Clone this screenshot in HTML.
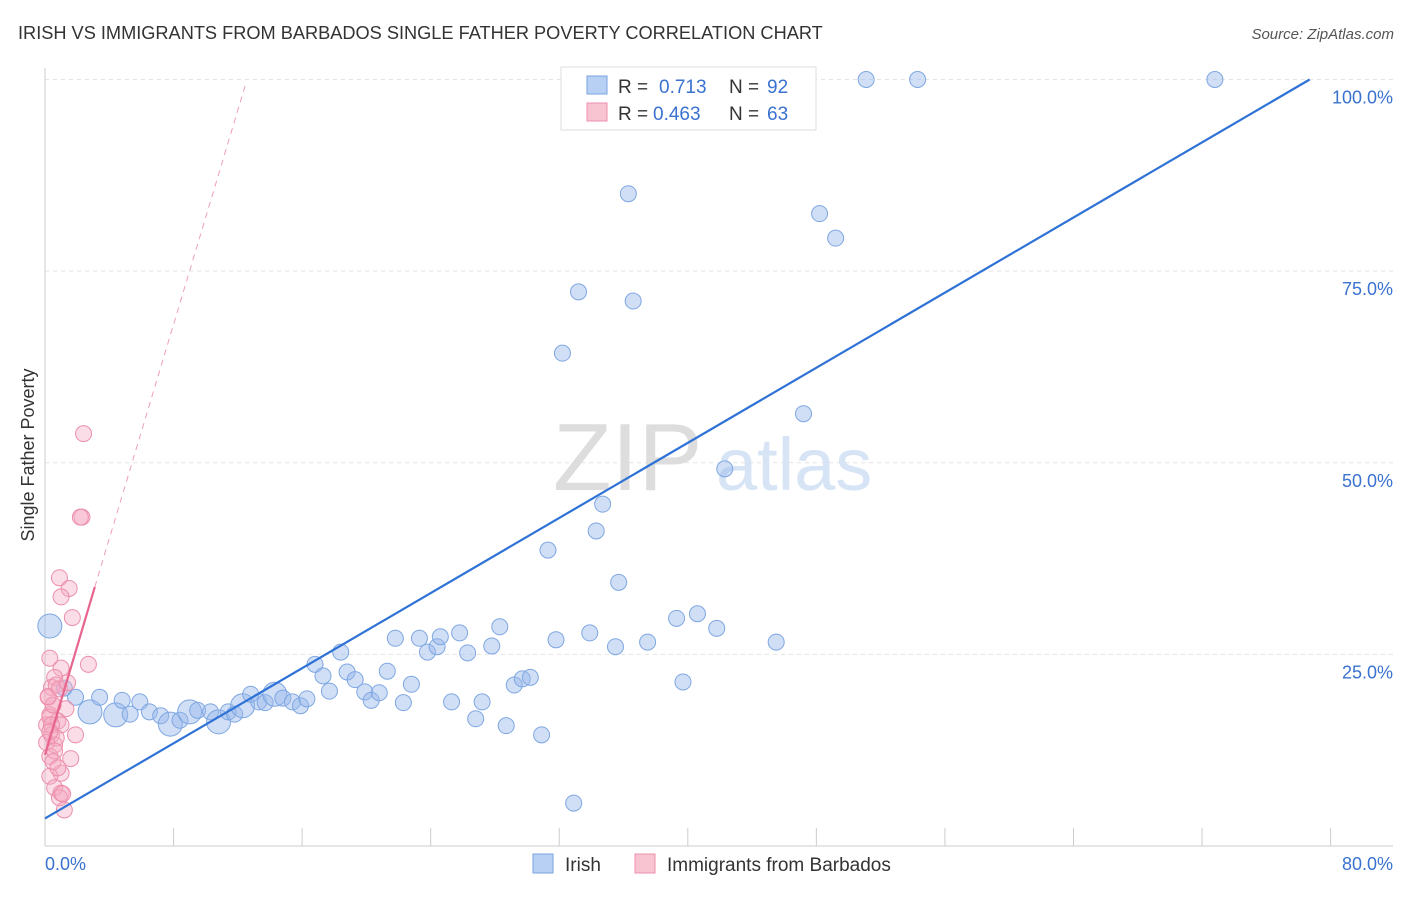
<!DOCTYPE html>
<html><head><meta charset="utf-8"><style>
body{margin:0;background:#fff;font-family:"Liberation Sans",sans-serif}
svg text{font-family:"Liberation Sans",sans-serif}
</style></head><body>
<svg width="1406" height="892" xmlns="http://www.w3.org/2000/svg">
<text x="18" y="39" font-size="18.2" fill="#333">IRISH VS IMMIGRANTS FROM BARBADOS SINGLE FATHER POVERTY CORRELATION CHART</text>
<text x="1394" y="39" font-size="15" fill="#555" text-anchor="end" font-style="italic">Source: ZipAtlas.com</text>
<g id="grid"></g>
<text x="553" y="490" font-size="96" fill="#ddd" font-family="Liberation Serif">ZIP</text>
<text x="716" y="490" font-size="74" fill="#d6e4f5">atlas</text>
<g id="marks"></g>
<text x="34" y="455" font-size="18" fill="#333" transform="rotate(-90 34 455)" text-anchor="middle">Single Father Poverty</text>
<text x="45" y="870" font-size="18" fill="#3a72d0">0.0%</text>
<text x="1393" y="870" font-size="18" fill="#3a72d0" text-anchor="end">80.0%</text>
<g>
<rect x="561" y="67" width="255" height="63" fill="#fff" stroke="#ddd"/>
<rect x="587" y="76" width="20" height="18" fill="#b7d0f3" stroke="#7aa3e0"/>
<rect x="587" y="103" width="20" height="18" fill="#f9c4d2" stroke="#ec8fab"/>
<text x="618" y="93" font-size="19" fill="#333">R =</text>
<text x="659" y="93" font-size="19" fill="#3a72d0">0.713</text>
<text x="729" y="93" font-size="19" fill="#333">N =</text>
<text x="767" y="93" font-size="19" fill="#3a72d0">92</text>
<text x="618" y="120" font-size="19" fill="#333">R =</text>
<text x="653" y="120" font-size="19" fill="#3a72d0">0.463</text>
<text x="729" y="120" font-size="19" fill="#333">N =</text>
<text x="767" y="120" font-size="19" fill="#3a72d0">63</text>
</g>
<g>
<rect x="533" y="854" width="20" height="19" fill="#b7d0f3" stroke="#7aa3e0"/>
<text x="565" y="871" font-size="19" fill="#333">Irish</text>
<rect x="635" y="854" width="20" height="19" fill="#f9c4d2" stroke="#ec8fab"/>
<text x="667" y="871" font-size="19" fill="#333">Immigrants from Barbados</text>
</g>
</svg>
<script>
const yTicks=[25,50,75,100];
const yTickLabels=["25.0%","50.0%","75.0%","100.0%"];
const xTicks=[0,8,16,24,32,40,48,56,64,72,80];
const irishX=[0.3,1.2,1.9,2.8,3.4,4.4,4.8,5.3,5.9,6.5,7.2,7.8,8.4,9.0,9.5,10.3,10.8,11.4,11.8,12.3,12.8,13.3,13.7,14.3,14.8,15.4,15.9,16.3,16.8,17.3,17.7,18.4,18.8,19.3,19.9,20.3,20.8,21.3,21.8,22.3,22.8,23.3,23.8,24.4,24.6,25.3,25.8,26.3,26.8,27.2,27.8,28.3,28.7,29.2,29.7,30.2,30.9,31.3,31.8,32.2,32.9,33.2,33.9,34.3,34.7,35.5,35.7,36.3,36.6,37.5,39.3,39.7,40.6,41.8,42.3,45.5,47.2,48.2,49.2,51.1,54.3,72.8,38.0,43.1,46.4];
const irishY=[28.7,20.6,19.4,17.5,19.4,17.1,19.0,17.2,18.8,17.5,17.0,15.9,16.4,17.5,17.7,17.5,16.2,17.5,17.2,18.3,19.8,18.8,18.7,19.8,19.3,18.8,18.3,19.2,23.7,22.2,20.2,25.3,22.7,21.7,20.1,19.0,20.0,22.8,27.1,18.7,21.1,27.1,25.3,26.0,27.3,18.8,27.8,25.2,16.6,18.8,26.1,28.6,15.7,21.0,21.8,22.0,14.5,38.6,26.9,64.3,5.6,72.3,27.8,41.1,44.6,26.0,34.4,85.1,71.1,26.6,29.7,21.4,30.3,28.4,49.2,26.6,56.4,82.5,79.3,100,100,100,100,100,100];
const bigIdx=[0,3,5,11,13,16,19,23];
const barbX=[2.4,2.3,2.2,0.9,1.5,1.0,1.7,2.7,0.3,1.0,0.6,0.4,0.7,0.2,0.5,1.3,0.3,0.8,0.1,1.0,0.4,1.9,0.6,1.6,0.3,1.0,0.3,0.6,1.0,0.9,1.2,0.3,0.4,0.5,0.7,0.2,0.9,0.1,0.6,1.4,0.5,0.8,1.1,0.3];
const barbY=[53.8,42.9,42.9,35.0,33.6,32.5,29.8,23.7,24.5,23.2,22.0,20.7,21.0,19.4,18.4,17.9,17.1,16.3,15.8,15.8,14.5,14.5,13.2,11.4,11.7,9.5,9.1,7.6,6.9,6.3,4.7,16.8,15.8,18.4,14.1,19.5,20.5,13.5,12.4,21.3,11.0,10.2,6.8,14.9];
const X=v=>45+v*16.07, Y=v=>846-v*7.665;
const NS="http://www.w3.org/2000/svg";
const grid=document.getElementById('grid'), marks=document.getElementById('marks');
function mk(t,a,p){const e=document.createElementNS(NS,t);for(const k in a)e.setAttribute(k,a[k]);p.appendChild(e);return e;}
yTicks.forEach((v,i)=>{
 const l=mk('line',{x1:45,x2:1393,y1:Y(v),y2:Y(v),stroke:'#e4e4e4','stroke-dasharray':'4,4'},grid);
 
 
 const t=mk('text',{x:1393,y:Y(v)+24,'font-size':18,fill:'#3a72d0','text-anchor':'end'},grid);
 t.textContent=yTickLabels[i];
 
 
});
const ax=mk('line',{x1:45,x2:1393,y1:846,y2:846,stroke:'#ccc'},grid);


const ay=mk('line',{x1:45,x2:45,y1:68,y2:846,stroke:'#ccc'},grid);


xTicks.forEach(v=>{const t=mk('line',{x1:X(v),x2:X(v),y1:828,y2:846,stroke:'#ccc'},grid);
 
 });
irishX.forEach((v,i)=>{const r=bigIdx.includes(i)?12:8;
 const c=mk('circle',{cx:X(v),cy:Y(irishY[i]),r:r,fill:'rgba(150,185,235,0.45)',stroke:'#7fa7e2','stroke-width':1},marks);
 
 });
barbX.forEach((v,i)=>{
 const c=mk('circle',{cx:X(v),cy:Y(barbY[i]),r:8,fill:'rgba(245,170,195,0.4)',stroke:'#ec8fab','stroke-width':1},marks);
 
 });
const l1=mk('line',{x1:X(0),y1:Y(3.6),x2:X(78.7),y2:Y(100),stroke:'#2f72d6','stroke-width':2.2},marks);


const l2=mk('line',{x1:X(0),y1:Y(11.9),x2:X(3.1),y2:Y(33.8),stroke:'#e8658e','stroke-width':2.2},marks);


const l3=mk('line',{x1:X(3.1),y1:Y(33.8),x2:X(12.5),y2:Y(99.5),stroke:'#eea0b8','stroke-width':1,'stroke-dasharray':'6,5'},marks);


</script>
</body></html>
